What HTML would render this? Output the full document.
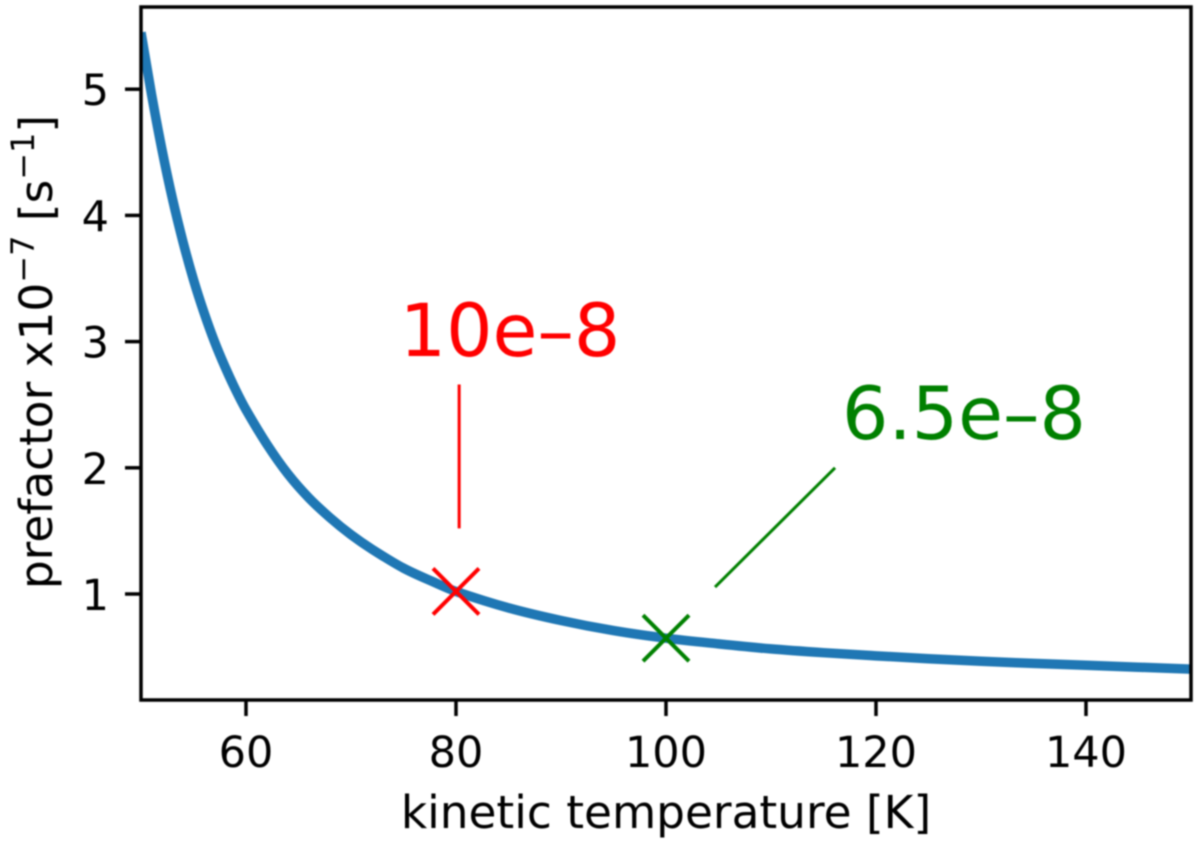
<!DOCTYPE html>
<html lang="en">
<head>
<meta charset="utf-8">
<title>Prefactor vs kinetic temperature</title>
<style>
html,body{margin:0;padding:0;background:#fff;width:1200px;height:844px;overflow:hidden}
svg{display:block;filter:blur(0.7px)}
text{font-family:"DejaVu Sans","Liberation Sans",sans-serif;fill:#000}
</style>
</head>
<body>
<svg id="chart" xmlns="http://www.w3.org/2000/svg" width="1200" height="844" viewBox="0 0 1200 844">
  <defs><clipPath id="plot-clip"><rect x="141" y="7" width="1050" height="693"/></clipPath></defs>
  <g id="marks"></g>
  <g id="axes"></g>
  <text x="666" y="828" font-size="45.4" text-anchor="middle">kinetic temperature [K]</text>
  <text transform="translate(52,352) rotate(-90)" font-size="45.4" text-anchor="middle">prefactor x10<tspan font-size="32" dy="-18">−7</tspan><tspan dy="18"> [s</tspan><tspan font-size="32" dy="-18">−1</tspan><tspan dy="18">]</tspan></text>
  <text x="510" y="356" font-size="73" text-anchor="middle" style="fill:#ff0000">10e–8</text>
  <text x="964" y="439" font-size="73" text-anchor="middle" style="fill:#008000">6.5e–8</text>
</svg>
<script>
const temperatures = [50,51,52,53,54,55,56,57,58,59,60,62,64,66,68,70,72,75,78,80,85,90,95,100,105,110,115,120,125,130,135,140,145,150];
const prefactors = [5.45,4.96,4.52,4.13,3.79,3.49,3.23,3.00,2.80,2.62,2.46,2.185,1.95,1.76,1.605,1.47,1.355,1.205,1.09,1.02,0.89,0.79,0.71,0.65,0.605,0.565,0.535,0.51,0.487,0.467,0.45,0.435,0.42,0.405];
const xTickValues = [60,80,100,120,140];
const yTickValues = [1,2,3,4,5];
const markerTemperatures = [80,100];
const markerPrefactors = [1.02,0.65];
const markerColors = ['#ff0000','#008000'];
const markerNames = ['marker-10e-8','marker-6.5e-8'];
const leaderStartT = [80.3,104.67];
const leaderStartV = [1.52,1.055];
const leaderEndT = [80.3,116.1];
const leaderEndV = [2.66,2.0];
const leaderNames = ['leader-line-10e-8','leader-line-6.5e-8'];

const SVG_NS = 'http://www.w3.org/2000/svg';
const xScale = t => 141 + (t - 50) * 10.5;
const yScale = v => 594 - (v - 1) * 126.2;
const marks = document.getElementById('marks');
const axes = document.getElementById('axes');

function line(parent, x1, y1, x2, y2, color, width) {
  const l = document.createElementNS(SVG_NS, 'line');
  l.setAttribute('x1', x1);
  l.setAttribute('y1', y1);
  l.setAttribute('x2', x2);
  l.setAttribute('y2', y2);
  l.setAttribute('stroke', color);
  l.setAttribute('stroke-width', width);
  parent.appendChild(l);
  return l;
}

function smoothPath(xs, ys) {
  const p = xs.map((x, i) => [xScale(x), yScale(ys[i])]);
  let d = 'M' + p[0][0].toFixed(2) + ' ' + p[0][1].toFixed(2);
  for (let i = 0; i < p.length - 1; i++) {
    const p0 = p[Math.max(i - 1, 0)];
    const p1 = p[i];
    const p2 = p[i + 1];
    const p3 = p[Math.min(i + 2, p.length - 1)];
    const h = p2[0] - p1[0];
    const m1 = (p2[1] - p0[1]) / (p2[0] - p0[0]);
    const m2 = (p3[1] - p1[1]) / (p3[0] - p1[0]);
    d += ' C' + (p1[0] + h / 3).toFixed(2) + ' ' + (p1[1] + m1 * h / 3).toFixed(2) + ' ' +
      (p2[0] - h / 3).toFixed(2) + ' ' + (p2[1] - m2 * h / 3).toFixed(2) + ' ' +
      p2[0].toFixed(2) + ' ' + p2[1].toFixed(2);
  }
  return d;
}

const curve = document.createElementNS(SVG_NS, 'path');


curve.setAttribute('d', smoothPath(temperatures, prefactors));
curve.setAttribute('fill', 'none');
curve.setAttribute('stroke', '#1f77b4');
curve.setAttribute('stroke-width', '9.5');
curve.setAttribute('stroke-linejoin', 'round');
curve.setAttribute('clip-path', 'url(#plot-clip)');
marks.appendChild(curve);

markerTemperatures.forEach((t, i) => {
  const cx = xScale(t);
  const cy = yScale(markerPrefactors[i]);
  const r = 23;
  const a = line(marks, cx - r, cy - r, cx + r, cy + r, markerColors[i], 4);
  
  
  const b = line(marks, cx - r, cy + r, cx + r, cy - r, markerColors[i], 4);
  
  
});

leaderStartT.forEach((t, i) => {
  const l = line(marks, xScale(t), yScale(leaderStartV[i]), xScale(leaderEndT[i]), yScale(leaderEndV[i]), markerColors[i], 3);
  
  
});

const frame = document.createElementNS(SVG_NS, 'rect');


frame.setAttribute('x', 141);
frame.setAttribute('y', 7);
frame.setAttribute('width', 1050);
frame.setAttribute('height', 693);
frame.setAttribute('fill', 'none');
frame.setAttribute('stroke', '#000');
frame.setAttribute('stroke-width', '3.5');
axes.appendChild(frame);

xTickValues.forEach(v => {
  const x = xScale(v);
  const tick = line(axes, x, 700, x, 716, '#000', 3.5);
  
  
  const label = document.createElementNS(SVG_NS, 'text');
  
  
  label.setAttribute('x', x);
  label.setAttribute('y', 767);
  label.setAttribute('font-size', '43');
  label.setAttribute('text-anchor', 'middle');
  label.textContent = v;
  axes.appendChild(label);
});

yTickValues.forEach(v => {
  const y = yScale(v);
  const tick = line(axes, 125, y, 141, y, '#000', 3.5);
  
  
  const label = document.createElementNS(SVG_NS, 'text');
  
  
  label.setAttribute('x', 109);
  label.setAttribute('y', y + 16);
  label.setAttribute('font-size', '43');
  label.setAttribute('text-anchor', 'end');
  label.textContent = v;
  axes.appendChild(label);
});
</script>
</body>
</html>
